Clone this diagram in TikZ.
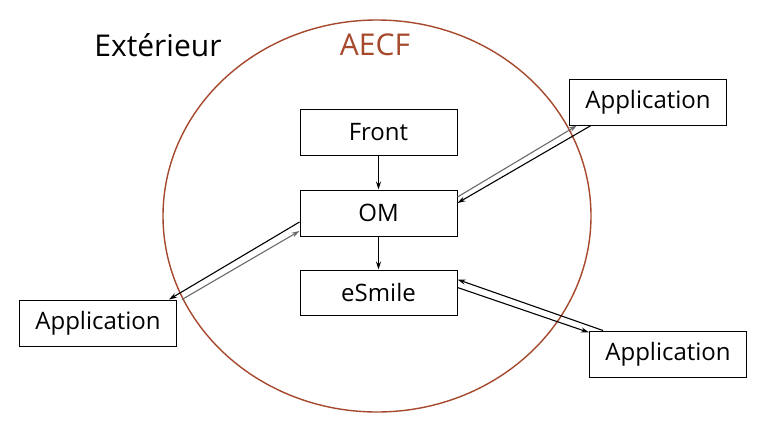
\documentclass[tikz,border=0pt]{standalone}
\usepackage{fontspec}
\setmainfont{Open Sans}
\usetikzlibrary{arrows.meta}
\definecolor{brownc}{HTML}{A5482C}
\definecolor{grayc}{HTML}{6A6A6A}
\begin{document}
\begin{tikzpicture}[x=1pt,y=-1pt,
  box/.style={draw,line width=1pt,minimum width=157pt,minimum height=46pt,inner sep=0pt,font=\fontsize{24}{28}\selectfont},
  conn/.style={line width=1.1pt,-{Stealth[length=8pt,width=5pt]}},
  gconn/.style={conn,draw=grayc}]
\useasboundingbox (0,0) rectangle (776,431);
\draw[brownc,line width=1.4pt] (377,216) ellipse [x radius=214, y radius=196];
\node[font=\fontsize{30}{36}\selectfont] (ext) at (158,45) {Extérieur};
\node[font=\fontsize{30}{36}\selectfont,text=brownc] (aecf) at (375,45) {AECF};
\node[box] (front) at (378.5,132.5) {Front};
\node[box] (om) at (378.5,213) {OM};
\node[box,minimum height=45pt] (esm) at (378.5,292.5) {eSmile};
\node[box] (app1) at (648,102) {Application};
\node[box] (app2) at (98,323) {Application};
\node[box] (app3) at (668,354) {Application};
\draw[conn] (front) -- (om);
\draw[conn] (om) -- (esm);
\draw[gconn] ([yshift=16]om.east) -- ([xshift=8]app1.south west);
\draw[conn] ([xshift=22]app1.south west) -- ([yshift=10]om.east);
\draw[conn] ([yshift=-9]om.west) -- ([xshift=-8]app2.north east);
\draw[gconn] ([xshift=5]app2.north east) -- ([yshift=-18]om.west);
\draw[conn] ([xshift=14]app3.north west) -- ([yshift=13]esm.east);
\draw[conn] ([yshift=5]esm.east) -- ([yshift=-2]app3.north west);
\end{tikzpicture}
\end{document}
